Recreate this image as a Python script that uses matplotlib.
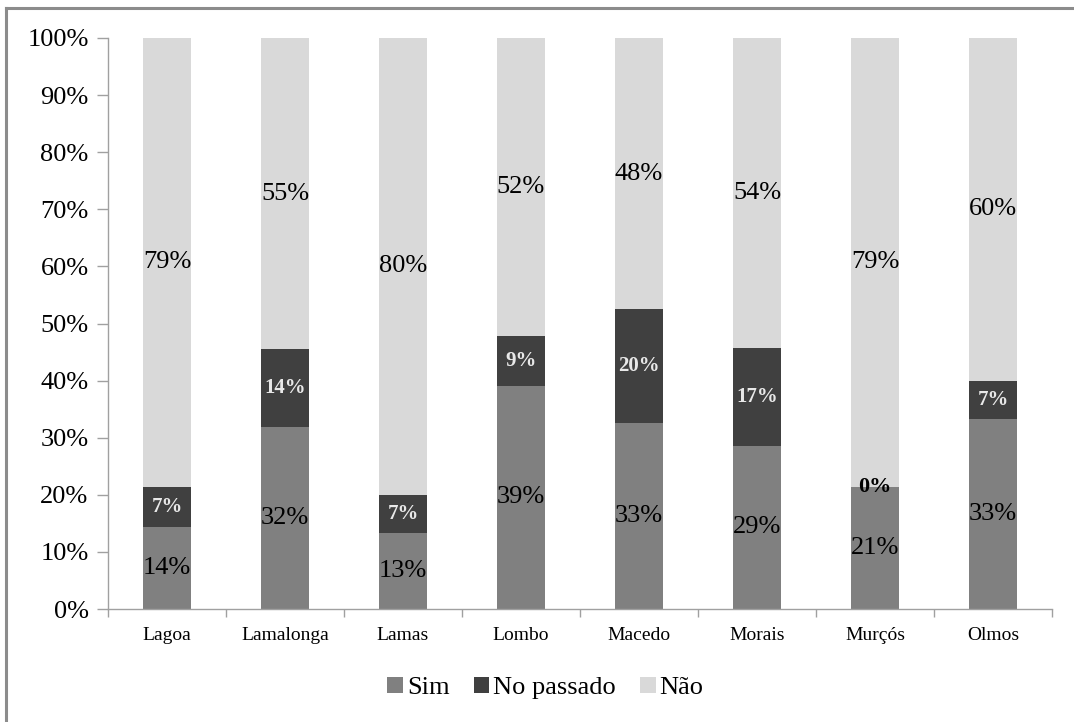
import numpy as np
import matplotlib
matplotlib.use('Agg')
import matplotlib.pyplot as plt
from matplotlib.patches import Patch
from matplotlib.lines import Line2D

plt.rcParams['font.family'] = ['Liberation Serif', 'DejaVu Serif']

# dados (percentagens por aldeia)
aldeias = ['Lagoa', 'Lamalonga', 'Lamas', 'Lombo', 'Macedo', 'Morais', 'Murçós', 'Olmos']
sim = [14.29, 31.82, 13.33, 39.13, 32.50, 28.57, 21.43, 33.33]
no_passado = [7.14, 13.64, 6.67, 8.70, 20.00, 17.14, 0.00, 6.67]
nao = [78.57, 54.55, 80.00, 52.17, 47.50, 54.29, 78.57, 60.00]

series_names = ['Sim', 'No passado', 'Não']
cores = ['#808080', '#404040', '#d9d9d9']

def pct(v):
    return '{}%'.format(int(np.floor(v + 0.5)))

fig = plt.figure(figsize=(10.74, 7.22), dpi=100)
ax = fig.add_axes([108/1074, 1 - 609/722, (1052 - 108)/1074, (609 - 38)/722])

x = np.arange(len(aldeias))
w = 0.4
sim = np.array(sim); no_passado = np.array(no_passado); nao = np.array(nao)

ax.bar(x, sim, w, color=cores[0], label=series_names[0])
ax.bar(x, no_passado, w, bottom=sim, color=cores[1], label=series_names[1])
ax.bar(x, nao, w, bottom=sim + no_passado, color=cores[2], label=series_names[2])

# rótulos
for i in range(len(aldeias)):
    ax.text(x[i], sim[i] / 2, pct(sim[i]), ha='center', va='center', fontsize=19, color='black')
    if no_passado[i] > 0:
        ax.text(x[i], sim[i] + no_passado[i] / 2, pct(no_passado[i]), ha='center', va='center',
                fontsize=15, color='#e8e8e8', fontweight='bold')
    else:
        ax.text(x[i], sim[i], pct(no_passado[i]), ha='center', va='center',
                fontsize=16, color='black', fontweight='bold')
    ax.text(x[i], sim[i] + no_passado[i] + nao[i] / 2, pct(nao[i]), ha='center', va='center',
            fontsize=19, color='black')

ax.set_xlim(-0.5, len(aldeias) - 0.5)
ax.set_ylim(0, 100)
ax.set_yticks(np.arange(0, 101, 10))
ax.set_yticklabels(['{}%'.format(v) for v in range(0, 101, 10)], fontsize=19)
ax.set_xticks(x)
ax.set_xticklabels(aldeias, fontsize=14)
ax.set_xticks(np.arange(-0.5, len(aldeias)), minor=True)
ax.tick_params(axis='x', which='major', length=0, pad=13)
ax.tick_params(axis='x', which='minor', length=6, color='#a0a0a0', width=1)
ax.tick_params(axis='y', length=8, color='#a0a0a0', width=1, pad=6)

for s in ['top', 'right']:
    ax.spines[s].set_visible(False)
for s in ['left', 'bottom']:
    ax.spines[s].set_color('#a0a0a0')
    ax.spines[s].set_linewidth(1)

handles = [Patch(facecolor=c) for c in cores]
fig.legend(handles, series_names, loc='center', bbox_to_anchor=(0.508, 1 - 688/722), ncol=3,
           frameon=False, fontsize=19, handlelength=0.6, handleheight=0.6,
           handletextpad=0.15, columnspacing=0.9)

# moldura cinzenta (só topo e esquerda visíveis)
fig.add_artist(Line2D([6/1074, 6/1074], [0, 1 - 8/722], color='#8c8c8c', lw=2.2))
fig.add_artist(Line2D([6/1074, 1], [1 - 8/722, 1 - 8/722], color='#8c8c8c', lw=2.2))

fig.savefig('out.png', dpi=100)
